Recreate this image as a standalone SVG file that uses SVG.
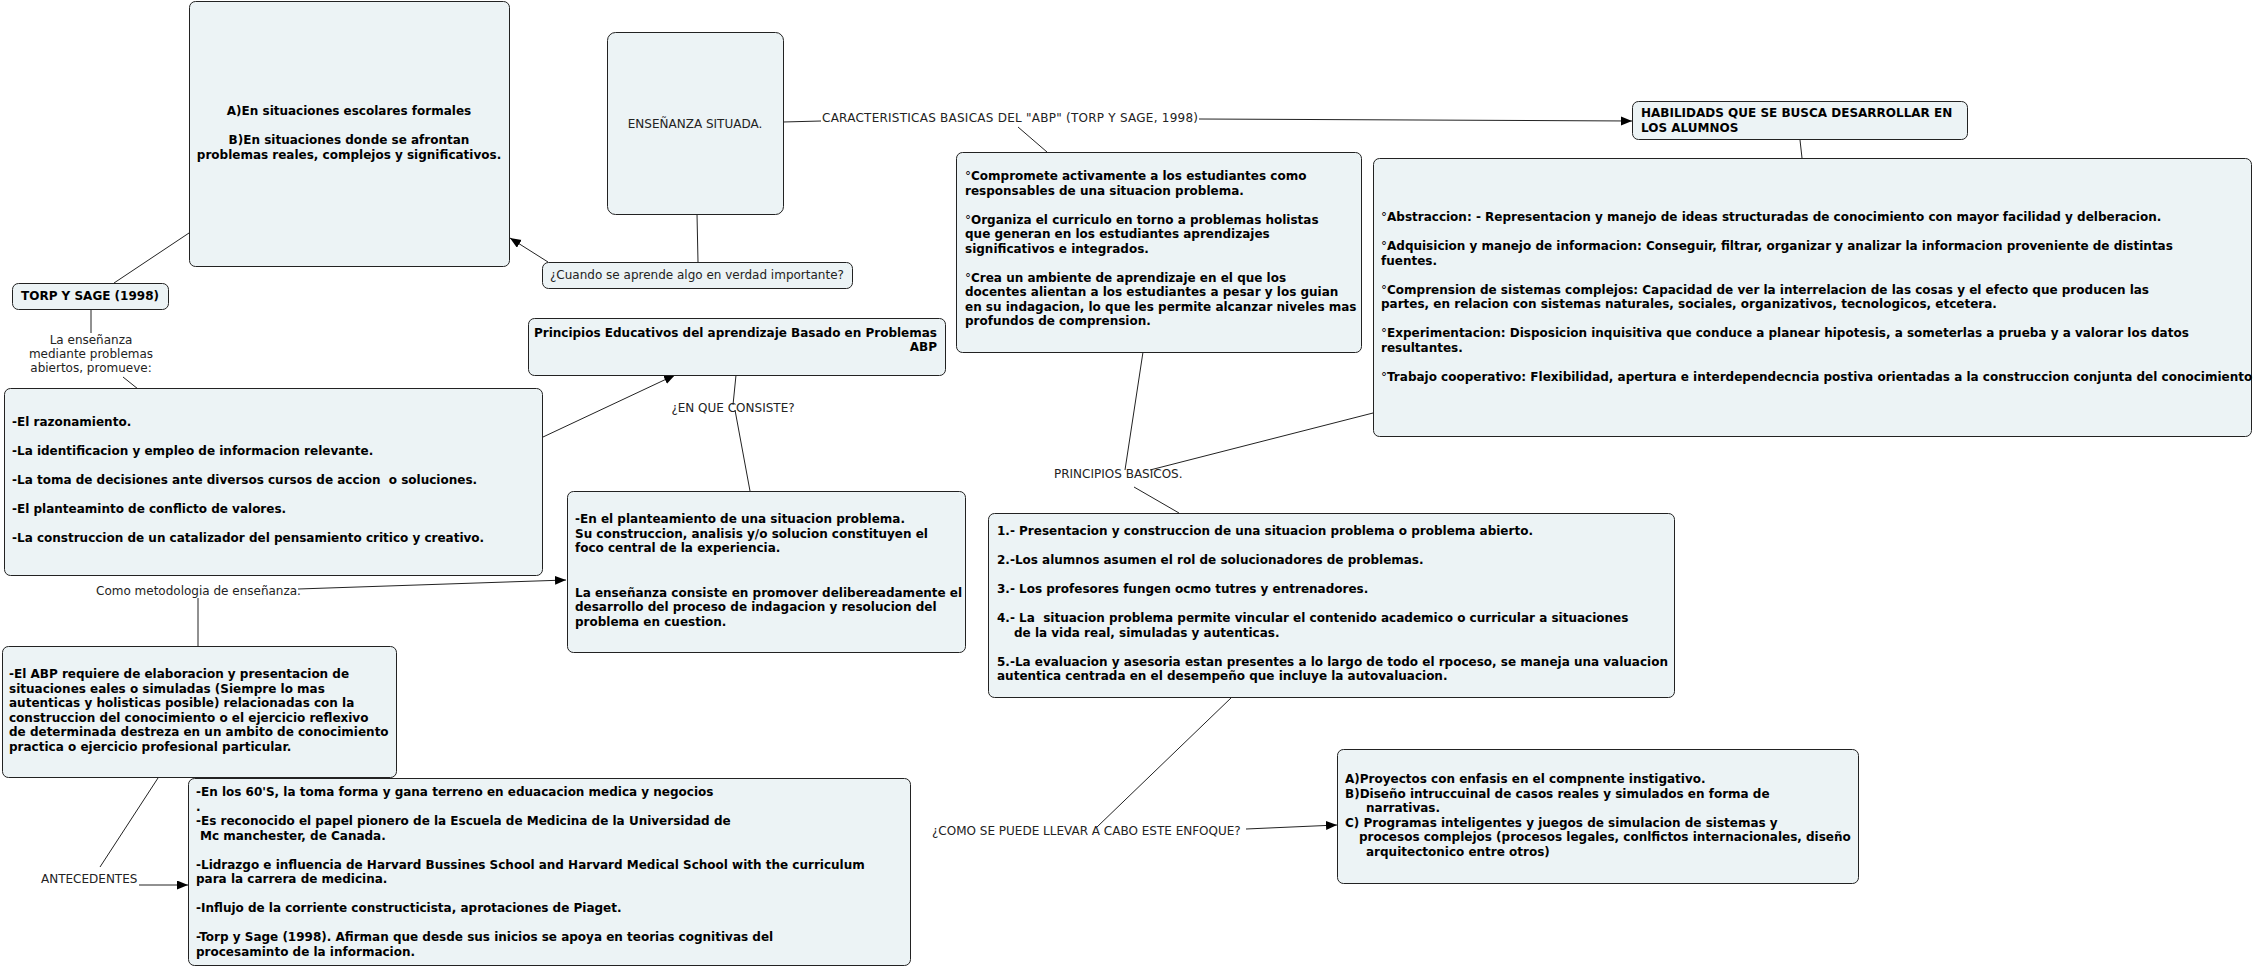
<svg xmlns="http://www.w3.org/2000/svg" width="2255" height="970" viewBox="0 0 2255 970">
<defs>
<style>
.box{fill:#ecf3f5;stroke:#222;stroke-width:1}
.b{font-family:Verdana,"DejaVu Sans",sans-serif;font-weight:bold;font-size:12px;fill:#000}
.n{font-family:Verdana,"DejaVu Sans",sans-serif;font-size:12px;fill:#222}
.c{stroke:#222;stroke-width:1;fill:none}
.mid{text-anchor:middle}
.end{text-anchor:end}
.deg{font-weight:normal}
</style>
<marker id="arr" markerUnits="userSpaceOnUse" markerWidth="12" markerHeight="10" refX="11" refY="4.5" orient="auto">
<path d="M0,0 L11,4.5 L0,9 z" fill="#000"/>
</marker>
</defs>
<rect width="2255" height="970" fill="#fff"/>

<g id="connectors">
<line class="c" x1="189" y1="233" x2="114" y2="283"/>
<line class="c" x1="91" y1="309" x2="91" y2="333"/>
<line class="c" x1="123" y1="377" x2="138" y2="389"/>
<line class="c" x1="697" y1="214" x2="698" y2="262"/>
<line class="c" x1="548" y1="262" x2="510" y2="238" marker-end="url(#arr)"/>
<line class="c" x1="783" y1="122" x2="821" y2="121"/>
<line class="c" x1="1199" y1="119" x2="1632" y2="121" marker-end="url(#arr)"/>
<line class="c" x1="1018" y1="127" x2="1047" y2="152"/>
<line class="c" x1="1800" y1="140" x2="1802" y2="158"/>
<line class="c" x1="1143" y1="352" x2="1125" y2="470"/>
<line class="c" x1="1373" y1="413" x2="1150" y2="470"/>
<line class="c" x1="1134" y1="487" x2="1179" y2="513"/>
<line class="c" x1="1232" y1="697" x2="1097" y2="827"/>
<line class="c" x1="1246" y1="829" x2="1337" y2="825" marker-end="url(#arr)"/>
<line class="c" x1="543" y1="437" x2="675" y2="375" marker-end="url(#arr)"/>
<line class="c" x1="736" y1="375" x2="733" y2="405"/>
<line class="c" x1="735" y1="410" x2="750" y2="491"/>
<line class="c" x1="298" y1="589" x2="566" y2="580" marker-end="url(#arr)"/>
<line class="c" x1="198" y1="598" x2="198" y2="647"/>
<line class="c" x1="158" y1="778" x2="100" y2="867"/>
<line class="c" x1="139" y1="885" x2="188" y2="885" marker-end="url(#arr)"/>
</g>

<g id="node-situaciones">
<rect class="box" x="189.5" y="1.5" width="320" height="265" rx="6"/>
<text class="b mid" x="349" y="115">A)En situaciones escolares formales</text>
<text class="b mid" x="349" y="144">B)En situaciones donde se afrontan</text>
<text class="b mid" x="349" y="158.5">problemas reales, complejos y significativos.</text>
</g>

<g id="node-torp">
<rect class="box" x="12.5" y="283.5" width="156" height="26" rx="6"/>
<text class="b" x="21" y="300">TORP Y SAGE (1998)</text>
</g>

<g id="label-promueve">
<text class="n mid" x="91" y="344">La enseñanza</text>
<text class="n mid" x="91" y="358">mediante problemas</text>
<text class="n mid" x="91" y="372">abiertos, promueve:</text>
</g>

<g id="node-lista">
<rect class="box" x="4.5" y="388.5" width="538" height="187" rx="6"/>
<text class="b" x="12" y="426">-El razonamiento.</text>
<text class="b" x="12" y="455">-La identificacion y empleo de informacion relevante.</text>
<text class="b" x="12" y="484" xml:space="preserve">-La toma de decisiones ante diversos cursos de accion  o soluciones.</text>
<text class="b" x="12" y="513">-El planteaminto de conflicto de valores.</text>
<text class="b" x="12" y="542">-La construccion de un catalizador del pensamiento critico y creativo.</text>
</g>

<g id="node-ensenanza">
<rect class="box" x="607.5" y="32.5" width="176" height="182" rx="8"/>
<text class="n mid" x="695" y="128">ENSEÑANZA SITUADA.</text>
</g>

<g id="node-cuando">
<rect class="box" x="542.5" y="262.5" width="310" height="26" rx="6"/>
<text class="n" x="550" y="279">¿Cuando se aprende algo en verdad importante?</text>
</g>

<g id="label-caracteristicas">
<text class="n" x="822" y="122" textLength="376" lengthAdjust="spacing">CARACTERISTICAS BASICAS DEL "ABP" (TORP Y SAGE, 1998)</text>
</g>

<g id="node-principios-educativos">
<rect class="box" x="528.5" y="318.5" width="417" height="57" rx="6"/>
<text class="b end" x="937" y="337">Principios Educativos del aprendizaje Basado en Problemas</text>
<text class="b end" x="937" y="351">ABP</text>
</g>

<g id="label-consiste">
<text class="n mid" x="733" y="412">¿EN QUE CONSISTE?</text>
</g>

<g id="node-planteamiento">
<rect class="box" x="567.5" y="491.5" width="398" height="161" rx="6"/>
<text class="b" x="575" y="523">-En el planteamiento de una situacion problema.</text>
<text class="b" x="575" y="537.5">Su construccion, analisis y/o solucion constituyen el</text>
<text class="b" x="575" y="552">foco central de la experiencia.</text>
<text class="b" x="575" y="596.5">La enseñanza consiste en promover delibereadamente el</text>
<text class="b" x="575" y="611">desarrollo del proceso de indagacion y resolucion del</text>
<text class="b" x="575" y="625.5">problema en cuestion.</text>
</g>

<g id="label-metodologia">
<text class="n" x="96" y="595">Como metodologia de enseñanza.</text>
</g>

<g id="node-abp">
<rect class="box" x="2.5" y="646.5" width="394" height="131" rx="6"/>
<text class="b" x="9" y="678">-El ABP requiere de elaboracion y presentacion de</text>
<text class="b" x="9" y="692.5">situaciones eales o simuladas (Siempre lo mas</text>
<text class="b" x="9" y="707">autenticas y holisticas posible) relacionadas con la</text>
<text class="b" x="9" y="721.5">construccion del conocimiento o el ejercicio reflexivo</text>
<text class="b" x="9" y="736">de determinada destreza en un ambito de conocimiento</text>
<text class="b" x="9" y="750.5">practica o ejercicio profesional particular.</text>
</g>

<g id="label-antecedentes">
<text class="n" x="41" y="883">ANTECEDENTES</text>
</g>

<g id="node-antecedentes">
<rect class="box" x="188.5" y="778.5" width="722" height="187" rx="6"/>
<text class="b" x="196" y="796">-En los 60'S, la toma forma y gana terreno en eduacacion medica y negocios</text>
<text class="b" x="196" y="810.5">.</text>
<text class="b" x="196" y="825">-Es reconocido el papel pionero de la Escuela de Medicina de la Universidad de</text>
<text class="b" x="200" y="839.5">Mc manchester, de Canada.</text>
<text class="b" x="196" y="868.5">-Lidrazgo e influencia de Harvard Bussines School and Harvard Medical School with the curriculum</text>
<text class="b" x="196" y="883">para la carrera de medicina.</text>
<text class="b" x="196" y="912">-Influjo de la corriente constructicista, aprotaciones de Piaget.</text>
<text class="b" x="196" y="941">-Torp y Sage (1998). Afirman que desde sus inicios se apoya en teorias cognitivas del</text>
<text class="b" x="196" y="955.5">procesaminto de la informacion.</text>
</g>

<g id="node-compromete">
<rect class="box" x="956.5" y="152.5" width="405" height="200" rx="6"/>
<text class="b" x="965" y="180"><tspan class="deg">°</tspan>Compromete activamente a los estudiantes como</text>
<text class="b" x="965" y="194.5">responsables de una situacion problema.</text>
<text class="b" x="965" y="223.5"><tspan class="deg">°</tspan>Organiza el curriculo en torno a problemas holistas</text>
<text class="b" x="965" y="238">que generan en los estudiantes aprendizajes</text>
<text class="b" x="965" y="252.5">significativos e integrados.</text>
<text class="b" x="965" y="281.5"><tspan class="deg">°</tspan>Crea un ambiente de aprendizaje en el que los</text>
<text class="b" x="965" y="296">docentes alientan a los estudiantes a pesar y los guian</text>
<text class="b" x="965" y="310.5">en su indagacion, lo que les permite alcanzar niveles mas</text>
<text class="b" x="965" y="325">profundos de comprension.</text>
</g>

<g id="node-habilidades">
<rect class="box" x="1632.5" y="101.5" width="335" height="38" rx="6"/>
<text class="b" x="1641" y="117">HABILIDADS QUE SE BUSCA DESARROLLAR EN</text>
<text class="b" x="1641" y="132">LOS ALUMNOS</text>
</g>

<g id="node-habilidades-detalle">
<rect class="box" x="1373.5" y="158.5" width="878" height="278" rx="6"/>
<text class="b" x="1381" y="221"><tspan class="deg">°</tspan>Abstraccion: - Representacion y manejo de ideas structuradas de conocimiento con mayor facilidad y delberacion.</text>
<text class="b" x="1381" y="250"><tspan class="deg">°</tspan>Adquisicion y manejo de informacion: Conseguir, filtrar, organizar y analizar la informacion proveniente de distintas</text>
<text class="b" x="1381" y="264.5">fuentes.</text>
<text class="b" x="1381" y="293.5"><tspan class="deg">°</tspan>Comprension de sistemas complejos: Capacidad de ver la interrelacion de las cosas y el efecto que producen las</text>
<text class="b" x="1381" y="308">partes, en relacion con sistemas naturales, sociales, organizativos, tecnologicos, etcetera.</text>
<text class="b" x="1381" y="337"><tspan class="deg">°</tspan>Experimentacion: Disposicion inquisitiva que conduce a planear hipotesis, a someterlas a prueba y a valorar los datos</text>
<text class="b" x="1381" y="351.5">resultantes.</text>
<text class="b" x="1381" y="380.5"><tspan class="deg">°</tspan>Trabajo cooperativo: Flexibilidad, apertura e interdependecncia postiva orientadas a la construccion conjunta del conocimiento</text>
</g>

<g id="label-principios-basicos">
<text class="n" x="1054" y="478">PRINCIPIOS BASICOS.</text>
</g>

<g id="node-principios-basicos">
<rect class="box" x="988.5" y="513.5" width="686" height="184" rx="6"/>
<text class="b" x="997" y="535">1.- Presentacion y construccion de una situacion problema o problema abierto.</text>
<text class="b" x="997" y="564">2.-Los alumnos asumen el rol de solucionadores de problemas.</text>
<text class="b" x="997" y="593">3.- Los profesores fungen ocmo tutres y entrenadores.</text>
<text class="b" x="997" y="622" xml:space="preserve">4.- La  situacion problema permite vincular el contenido academico o curricular a situaciones</text>
<text class="b" x="1014" y="636.5">de la vida real, simuladas y autenticas.</text>
<text class="b" x="997" y="665.5">5.-La evaluacion y asesoria estan presentes a lo largo de todo el rpoceso, se maneja una valuacion</text>
<text class="b" x="997" y="680">autentica centrada en el desempeño que incluye la autovaluacion.</text>
</g>

<g id="label-como">
<text class="n" x="932" y="835">¿COMO SE PUEDE LLEVAR A CABO ESTE ENFOQUE?</text>
</g>

<g id="node-proyectos">
<rect class="box" x="1337.5" y="749.5" width="521" height="134" rx="6"/>
<text class="b" x="1345" y="783">A)Proyectos con enfasis en el compnente instigativo.</text>
<text class="b" x="1345" y="797.5">B)Diseño intruccuinal de casos reales y simulados en forma de</text>
<text class="b" x="1366" y="812">narrativas.</text>
<text class="b" x="1345" y="826.5">C) Programas inteligentes y juegos de simulacion de sistemas y</text>
<text class="b" x="1359" y="841">procesos complejos (procesos legales, conlfictos internacionales, diseño</text>
<text class="b" x="1366" y="855.5">arquitectonico entre otros)</text>
</g>
</svg>
